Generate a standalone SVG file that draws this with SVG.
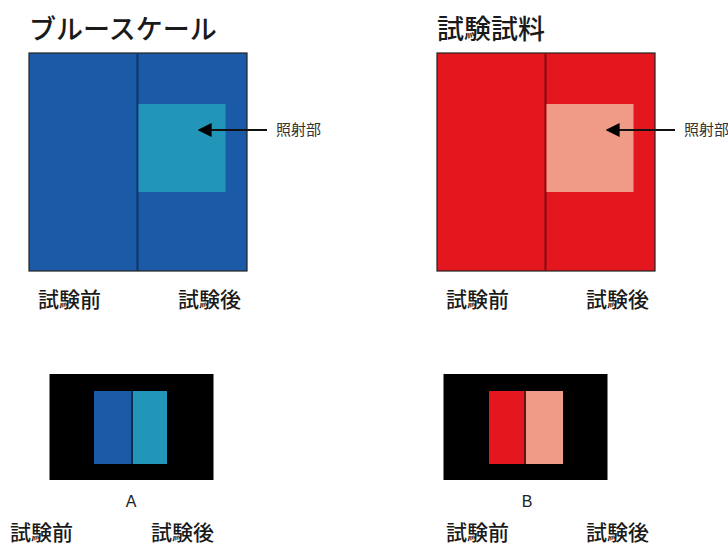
<svg xmlns="http://www.w3.org/2000/svg" width="728" height="545" viewBox="0 0 728 545">
<style>
.t{font-family:"Noto Sans CJK JP","Noto Sans",sans-serif;fill:#1a1a1a}
.title{font-size:27px;font-weight:500}
.lbl{font-size:21px;font-weight:500}
.small{font-size:15px;fill:#333}
.lat{font-family:"Liberation Sans",Arial,sans-serif;font-size:16px;fill:#222}
.edge{stroke:#222;stroke-width:1.2}
.div{stroke-width:2}
.arrow{stroke:#111;stroke-width:2;fill:none}
</style>
<defs>
<marker id="ah" viewBox="0 0 10 10" refX="9" refY="5" markerWidth="7" markerHeight="7" orient="auto-start-reverse" markerUnits="strokeWidth">
<path d="M0,0 L10,5 L0,10 z" fill="#000"/>
</marker>
</defs>
<rect width="728" height="545" fill="#fff"/>

<g id="blue-scale">
<text class="t title" x="29" y="39">ブルースケール</text>
<rect x="29" y="53" width="218" height="218" fill="#1a5aa6" class="edge"/>
<line x1="137.5" y1="53" x2="137.5" y2="271" stroke="#0f3463" class="div"/>
<rect x="138.5" y="104" width="87" height="88" fill="#2196b8"/>
<text class="t lbl" x="38" y="307">試験前</text>
<text class="t lbl" x="178" y="307">試験後</text>
</g>

<g id="blue-label">
<text class="t small" x="276" y="135">照射部</text>
</g>

<g id="test-sample">
<text class="t title" x="437" y="39">試験試料</text>
<rect x="437" y="53" width="218" height="218" fill="#e5171e" class="edge"/>
<line x1="545.5" y1="53" x2="545.5" y2="271" stroke="#7a0e10" class="div"/>
<rect x="546.5" y="104" width="87" height="88" fill="#f09a88"/>
<text class="t lbl" x="446" y="307">試験前</text>
<text class="t lbl" x="586" y="307">試験後</text>
</g>

<g id="red-label">
<text class="t small" x="684" y="135">照射部</text>
</g>

<g id="A">
<rect x="49.5" y="374" width="164" height="106" fill="#000"/>
<rect x="94" y="391" width="37" height="73" fill="#1a5aa6"/>
<rect x="131" y="391" width="2" height="73" fill="#0d2d4a"/>
<rect x="133" y="391" width="34" height="73" fill="#2196b8"/>
<text class="lat" x="131" y="507" text-anchor="middle">A</text>
<text class="t lbl" x="10" y="540">試験前</text>
<text class="t lbl" x="151" y="540">試験後</text>
</g>

<g id="B">
<rect x="443.5" y="374" width="164" height="106" fill="#000"/>
<rect x="489" y="391" width="35" height="73" fill="#e5171e"/>
<rect x="524" y="391" width="2" height="73" fill="#5a1a14"/>
<rect x="526" y="391" width="37" height="73" fill="#f09a88"/>
<text class="lat" x="527" y="507" text-anchor="middle">B</text>
<text class="t lbl" x="446" y="540">試験前</text>
<text class="t lbl" x="586" y="540">試験後</text>
</g>

<g id="connectors">
<line x1="267" y1="130" x2="199" y2="130" class="arrow" marker-end="url(#ah)"/>
<line x1="675" y1="130" x2="607" y2="130" class="arrow" marker-end="url(#ah)"/>
</g>
</svg>
